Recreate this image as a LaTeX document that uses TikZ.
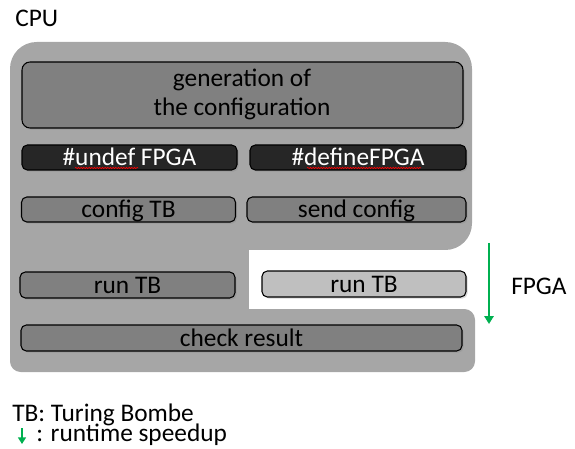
\documentclass[tikz,border=0pt]{standalone}
\usepackage{fontspec}
\setmainfont{Carlito}
\usetikzlibrary{shadows,decorations.pathmorphing,arrows.meta}
\definecolor{bgc}{HTML}{A6A6A6}
\definecolor{midc}{HTML}{808080}
\definecolor{darkc}{HTML}{262626}
\definecolor{lightc}{HTML}{BFBFBF}
\definecolor{grn}{HTML}{00B050}
\begin{document}
\begin{tikzpicture}[x=0.75pt,y=-0.75pt,
  txt/.style={font=\fontsize{19}{21.75}\selectfont, inner sep=0pt},
  box/.style={txt, draw=black, line width=0.8pt, rounded corners=4pt,
    drop shadow={shadow xshift=1.2pt,shadow yshift=-1.2pt,opacity=0.3},
    text height=12.5pt, text depth=0pt},
  midbox/.style={box, fill=midc},
  darkbox/.style={box, fill=darkc, text=white},
  lightbox/.style={box, fill=lightc},
  squig/.style={draw=red, line width=0.45pt, decorate,
    decoration={snake, amplitude=0.5pt, segment length=2pt}},
  speed/.style={draw=grn, line width=2.2pt, -{Triangle[width=7pt,length=6pt]}}
]
\useasboundingbox (0,0) rectangle (575,449);
% background shape
\fill[bgc, rounded corners=20pt] (10,42) rectangle (472,250);
\fill[bgc] (10,150) rectangle (249,330);
\fill[bgc, rounded corners=8pt] (10,309) rectangle (475,372);

% boxes
\node[midbox, rounded corners=6pt, minimum width=330.75pt, minimum height=49.5pt] (gen) at (242.5,95) {};
\node[txt, anchor=base] (gen1) at (242,87) {generation of};
\node[txt, anchor=base] (gen2) at (242,116) {the configuration};
\node[darkbox, minimum width=161.25pt, minimum height=18.75pt] (undef) at (129.5,157.5) {\#undef FPGA};
\node[darkbox, minimum width=162pt, minimum height=18.75pt] (def) at (358,157.5) {\#defineFPGA};
\node[midbox, minimum width=160.5pt, minimum height=18.75pt] (cfg) at (128.5,209.5) {config TB};
\node[midbox, minimum width=164.25pt, minimum height=18.75pt] (send) at (356.5,209.5) {send config};
\node[midbox, minimum width=161.25pt, minimum height=19.5pt] (runl) at (127.5,285) {run TB};
\node[lightbox, minimum width=153pt, minimum height=19.5pt] (runr) at (364,284) {run TB};
\node[midbox, minimum width=330.75pt, minimum height=19.5pt] (chk) at (241.5,338) {check result};

% spell-check squiggles
\path[squig] (75,168) -- (138,168);
\path[squig] (307,168) -- (421,168);

% labels
\node[txt, anchor=base west] (cpu) at (15,27) {CPU};
\node[txt, anchor=base west] (fpga) at (511,294) {FPGA};
\node[txt, anchor=base west, text depth=0pt] (tb) at (12,421) {TB: Turing Bombe};
\node[txt, anchor=base west, text height=10pt] (rs) at (36,441) {: runtime speedup};

% arrows
\coordinate (a1) at (489,243);
\coordinate (a2) at (489,324);
\draw[speed] (a1) -- (a2);
\coordinate (l1) at (22,428);
\coordinate (l2) at (22,444);
\draw[speed, line width=1.8pt, -{Triangle[width=6pt,length=5pt]}] (l1) -- (l2);
\end{tikzpicture}
\end{document}
